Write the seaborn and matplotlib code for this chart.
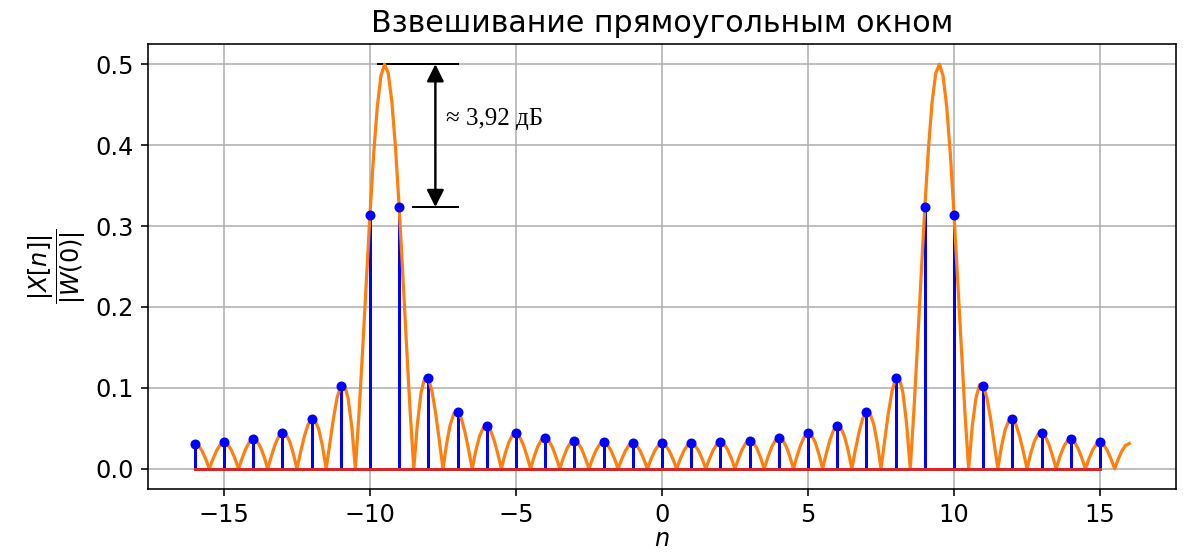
import numpy as np
import matplotlib
matplotlib.use("Agg")
import matplotlib.pyplot as plt
import seaborn as sns

# ---- data ----
# stem samples X[n]/W(0)
n_idx = list(range(-16, 16))
stem_vals = [0.0312, 0.0325, 0.0365, 0.0448, 0.0615, 0.1028, 0.3140, 0.3235,
             0.1121, 0.0705, 0.0531, 0.0438, 0.0383, 0.0349, 0.0328, 0.0316,
             0.0313, 0.0316, 0.0328, 0.0349, 0.0383, 0.0438, 0.0531, 0.0705,
             0.1121, 0.3235, 0.3140, 0.1028, 0.0615, 0.0448, 0.0365, 0.0325]

# continuous spectrum (orange), sampled every 1/8 bin from -16 to 16
curve_vals = [
    0.0312, 0.0289, 0.0222, 0.0121, 0.0, 0.0121, 0.0226, 0.0297,
    0.0325, 0.0303, 0.0235, 0.0129, 0.0, 0.0132, 0.0249, 0.0331,
    0.0365, 0.0345, 0.0269, 0.0149, 0.0, 0.0157, 0.0298, 0.0401,
    0.0448, 0.0427, 0.0339, 0.0190, 0.0, 0.0206, 0.0396, 0.0541,
    0.0615, 0.0598, 0.0483, 0.0277, 0.0, 0.0312, 0.0622, 0.0878,
    0.1028, 0.1039, 0.0875, 0.0530, 0.0, 0.0681, 0.1472, 0.2314,
    0.3140, 0.3880, 0.4470, 0.4855, 0.5000, 0.4891, 0.4537, 0.3968,
    0.3235, 0.2401, 0.1539, 0.0717, 0.0, 0.0559, 0.0941, 0.1123,
    0.1121, 0.0956, 0.0687, 0.0350, 0.0, 0.0312, 0.0547, 0.0683,
    0.0705, 0.0625, 0.0459, 0.0240, 0.0, 0.0223, 0.0399, 0.0505,
    0.0531, 0.0477, 0.0356, 0.0188, 0.0, 0.0179, 0.0323, 0.0413,
    0.0438, 0.0397, 0.0298, 0.0159, 0.0, 0.0153, 0.0279, 0.0359,
    0.0383, 0.0349, 0.0264, 0.0141, 0.0, 0.0138, 0.0252, 0.0325,
    0.0349, 0.0320, 0.0243, 0.0130, 0.0, 0.0128, 0.0235, 0.0305,
    0.0328, 0.0301, 0.0229, 0.0123, 0.0, 0.0122, 0.0225, 0.0293,
    0.0316, 0.0292, 0.0223, 0.0120, 0.0, 0.0120, 0.0221, 0.0289,
    0.0313, 0.0289, 0.0221, 0.0120, 0.0, 0.0120, 0.0223, 0.0292,
    0.0316, 0.0293, 0.0225, 0.0122, 0.0, 0.0123, 0.0229, 0.0301,
    0.0328, 0.0305, 0.0235, 0.0128, 0.0, 0.0130, 0.0243, 0.0320,
    0.0349, 0.0325, 0.0252, 0.0138, 0.0, 0.0141, 0.0264, 0.0349,
    0.0383, 0.0359, 0.0279, 0.0153, 0.0, 0.0159, 0.0298, 0.0397,
    0.0438, 0.0413, 0.0323, 0.0179, 0.0, 0.0188, 0.0356, 0.0477,
    0.0531, 0.0505, 0.0399, 0.0223, 0.0, 0.0240, 0.0459, 0.0625,
    0.0705, 0.0683, 0.0547, 0.0312, 0.0, 0.0350, 0.0687, 0.0956,
    0.1121, 0.1123, 0.0941, 0.0559, 0.0, 0.0717, 0.1539, 0.2401,
    0.3235, 0.3968, 0.4537, 0.4891, 0.5000, 0.4855, 0.4470, 0.3880,
    0.3140, 0.2314, 0.1472, 0.0681, 0.0, 0.0530, 0.0875, 0.1039,
    0.1028, 0.0878, 0.0622, 0.0312, 0.0, 0.0277, 0.0483, 0.0598,
    0.0615, 0.0541, 0.0396, 0.0206, 0.0, 0.0190, 0.0339, 0.0427,
    0.0448, 0.0401, 0.0298, 0.0157, 0.0, 0.0149, 0.0269, 0.0345,
    0.0365, 0.0331, 0.0249, 0.0132, 0.0, 0.0129, 0.0235, 0.0303,
    0.0325, 0.0297, 0.0226, 0.0121, 0.0, 0.0121, 0.0222, 0.0289,
    0.0312,
]
curve_f = np.linspace(-16, 16, len(curve_vals))  # frequency grid (bins)

peak_level = 0.5
ref_level = 0.3235
title_text = "Взвешивание прямоугольным окном"
annot_text = "≈ 3,92 дБ"

# ---- figure ----
DPI = 144
fig = plt.figure(figsize=(1183 / DPI, 556 / DPI), dpi=DPI)
ax = fig.add_axes([148 / 1183, 1 - 489 / 556, (1176 - 148) / 1183, (489 - 44) / 556])

# stems
markerline, stemlines, baseline = ax.stem(n_idx, stem_vals, linefmt="b-",
                                          markerfmt="bo", basefmt="C3-")
stemlines.set_linewidth(1.5)
stemlines.set_zorder(2)
markerline.set_markersize(4)
markerline.set_zorder(3.5)
baseline.set_linewidth(1.5)
baseline.set_zorder(3)

# continuous spectrum
sns.lineplot(x=curve_f, y=curve_vals, color="C1", linewidth=1.6, ax=ax,
             zorder=2.5, estimator=None, sort=False)

ax.grid(True, color="#b0b0b0", linewidth=0.8)
ax.set_axisbelow(True)

# annotation
ax.hlines(peak_level, -9.75, -6.95, color="k", linewidth=1.0)
ax.hlines(ref_level, -8.55, -6.95, color="k", linewidth=1.0)
ax.annotate("", xy=(-7.76, ref_level), xytext=(-7.76, peak_level),
            arrowprops=dict(arrowstyle="<|-|>", color="k", lw=1.2,
                            shrinkA=0, shrinkB=0, mutation_scale=18))
ax.text(-7.4, 0.432, annot_text, family=["Liberation Serif", "DejaVu Serif"],
        fontsize=12.5, va="center", ha="left")

ax.set_title(title_text, fontsize=15)
ax.set_xlabel("$n$", fontsize=12, labelpad=0)
ax.set_ylabel(r"$\dfrac{|X[n]|}{|W(0)|}$", fontsize=12)
ax.tick_params(labelsize=12)
ax.set_xlim(-17.6, 17.6)
ax.set_ylim(-0.025, 0.525)

fig.savefig("out.png", dpi=DPI)
